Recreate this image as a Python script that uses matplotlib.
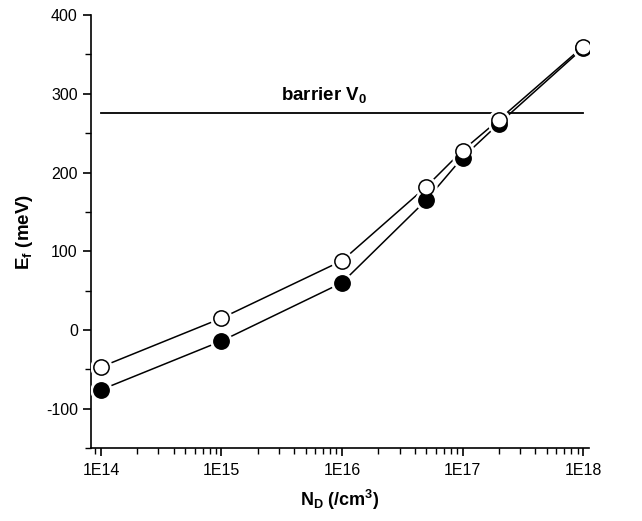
import matplotlib
matplotlib.use("Agg")
import matplotlib.pyplot as plt
import numpy as np
from matplotlib.ticker import LogLocator, FixedLocator, MultipleLocator, FuncFormatter

plt.rcParams['font.family'] = ['Liberation Sans', 'DejaVu Sans']
plt.rcParams['axes.unicode_minus'] = False
plt.rcParams['mathtext.fontset'] = 'custom'
plt.rcParams['mathtext.rm'] = 'Liberation Sans:bold'
plt.rcParams['mathtext.bf'] = 'Liberation Sans:bold'
plt.rcParams['mathtext.it'] = 'Liberation Sans:bold'

# data
nd = [1e14, 1e15, 1e16, 5e16, 1e17, 2e17, 1e18]
ef_open = [-47, 15, 88, 182, 228, 267, 360]
ef_filled = [-76, -14, 60, 165, 219, 262, 358]
barrier = 276
barrier_x = [1e14, 1e18]

fig = plt.figure(figsize=(6.42, 5.21), dpi=100)
ax = fig.add_axes([0.1417, 0.140, 0.7757, 0.831])

ax.plot(barrier_x, [barrier, barrier], color='black', lw=1.3, zorder=1)

for ys in [ef_filled, ef_open]:
    ax.plot(nd, ys, color='black', lw=1.1, zorder=2)
# white halos so lines stop short of the markers
for ys in [ef_filled, ef_open]:
    ax.plot(nd, ys, ls='none', marker='o', ms=16, mfc='white', mec='none', zorder=3)
ax.plot(nd, ef_filled, ls='none', marker='o', ms=11, mfc='black', mec='black', mew=1.1, zorder=4)
ax.plot(nd, ef_open, ls='none', marker='o', ms=11, mfc='white', mec='black', mew=1.1, zorder=5)

ax.set_xscale('log')
ax.set_xlim(8.26e13, 1.12e18)
ax.set_ylim(-150, 400)

ax.xaxis.set_major_locator(FixedLocator([1e14, 1e15, 1e16, 1e17, 1e18]))
ax.xaxis.set_minor_locator(LogLocator(base=10, subs=np.arange(2, 10), numticks=20))
ax.xaxis.set_major_formatter(FuncFormatter(lambda v, p: '1E%d' % round(np.log10(v))))
ax.xaxis.set_minor_formatter(FuncFormatter(lambda v, p: ''))
ax.yaxis.set_major_locator(MultipleLocator(100))
ax.yaxis.set_minor_locator(MultipleLocator(50))

for s in ['top', 'right']:
    ax.spines[s].set_visible(False)
for s in ['left', 'bottom']:
    ax.spines[s].set_linewidth(1.2)
ax.tick_params(which='major', direction='out', length=6, width=1.2, labelsize=11.5)
ax.tick_params(which='minor', direction='out', length=4, width=1.0)
ax.tick_params(axis='x', which='major', pad=5)

ax.text(3.1e15, 292, r'barrier V$_{\mathbf{0}}$', fontsize=13.5, fontweight='bold')
ax.set_xlabel(r'N$_{\mathbf{D}}$ (/cm$^{\mathbf{3}}$)', fontsize=13, fontweight='bold', labelpad=7)
ax.set_ylabel(r'E$_{\mathbf{f}}$ (meV)', fontsize=13.5, fontweight='bold', labelpad=8)

fig.savefig('out.png', dpi=100)
